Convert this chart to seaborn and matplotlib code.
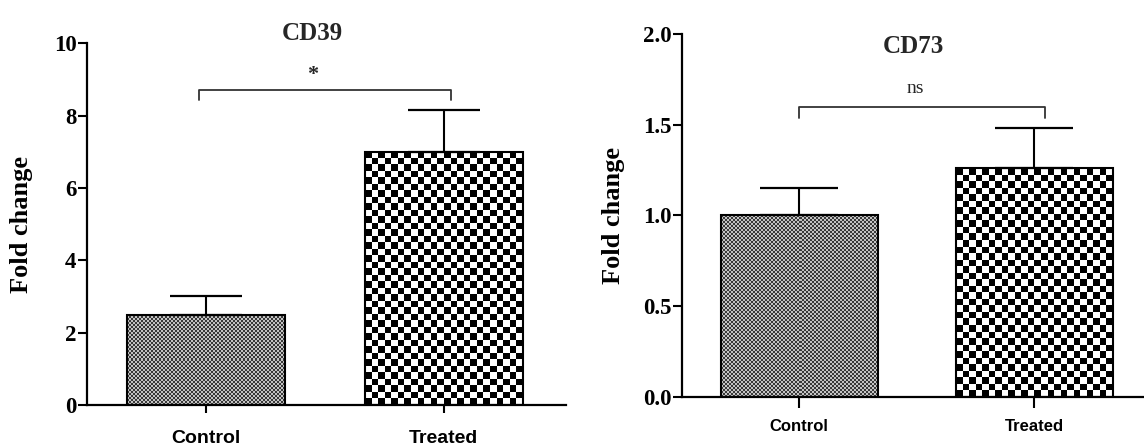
import numpy as np
import matplotlib
matplotlib.use("Agg")
import matplotlib.pyplot as plt
from matplotlib.colors import ListedColormap
import seaborn as sns

# ---- données ----
groupes = ["Control", "Treated"]
cd39_moy = [2.49, 7.0]
cd39_sem = [0.52, 1.16]
cd73_moy = [1.0, 1.26]
cd73_sem = [0.15, 0.22]
cd39_ticks = [0, 2, 4, 6, 8, 10]
cd73_ticks = [0.0, 0.5, 1.0, 1.5, 2.0]
titres = ["CD39", "CD73"]
signif = ["*", "ns"]
crochet_haut = [8.71, 1.598]
crochet_bas = [8.43, 1.537]
signif_y = [9.12, 1.70]

sns.set_theme(style="ticks")
plt.rcParams["axes.linewidth"] = 1.6
plt.rcParams["font.family"] = ["Liberation Serif", "DejaVu Serif"]

fig = plt.figure(figsize=(11.44, 4.47), dpi=100)
ax1 = fig.add_axes([0.0760, 0.094, 0.4187, 0.8087])
ax2 = fig.add_axes([0.5962, 0.1119, 0.4104, 0.8121])


# remplissage des barres par un motif damier (comme GraphPad)
def remplir_motif(ax, barre, cellule, c_fonce, c_clair):
    bb = barre.get_window_extent()
    ncol = max(1, int(round(bb.width / cellule)))
    nlig = max(1, int(round(bb.height / cellule)))
    damier = np.indices((nlig, ncol)).sum(axis=0) % 2
    x0, y0 = barre.get_x(), barre.get_y()
    x1, y1 = x0 + barre.get_width(), y0 + barre.get_height()
    ax.imshow(damier, extent=(x0, x1, y0, y1), origin="lower",
              cmap=ListedColormap([c_fonce, c_clair]), interpolation="nearest",
              aspect="auto", zorder=0.5)
    barre.set_facecolor("none")


panneaux = [
    dict(ax=ax1, moy=cd39_moy, sem=cd39_sem, ticks=cd39_ticks, fmt="{:g}",
         xlim=(-0.5, 1.513), largeur=0.664, cap=26, xt=14, tlen=6, tpad=12,
         titre_pos=(0.47, 1.0097), lab_x=-0.113, cro=(-0.03, 1.03), sx=0.45),
    dict(ax=ax2, moy=cd73_moy, sem=cd73_sem, ticks=cd73_ticks, fmt="{:.1f}",
         xlim=(-0.498, 1.5), largeur=0.668, cap=28, xt=12, tlen=8, tpad=8,
         titre_pos=(0.492, 0.948), lab_x=-0.121, cro=(0.0, 1.045), sx=0.494),
]

for i, p in enumerate(panneaux):
    ax = p["ax"]
    sns.barplot(x=groupes, y=p["moy"], color="white", width=p["largeur"],
                edgecolor="black", linewidth=1.5, errorbar=None, ax=ax)
    ax.set_xlim(*p["xlim"])
    ax.set_ylim(p["ticks"][0], p["ticks"][-1])

    barres = ax.patches
    centres = [b.get_x() + b.get_width() / 2 for b in barres]
    remplir_motif(ax, barres[0], 2.0, "#3a3a3a", "#c4c4c4")
    remplir_motif(ax, barres[1], 6.5, "#000000", "#ffffff")
    ax.set_xlim(*p["xlim"])
    ax.set_ylim(p["ticks"][0], p["ticks"][-1])

    # barres d'erreur (seulement vers le haut)
    ax.errorbar(centres, p["moy"], yerr=[[0, 0], p["sem"]], fmt="none",
                ecolor="black", elinewidth=1.5, capsize=p["cap"], capthick=1.6,
                zorder=3)

    # crochet de significativité
    xa = centres[0] + p["cro"][0]
    xb = centres[1] + (p["cro"][1] - 1)
    ax.plot([xa, xa, xb, xb],
            [crochet_bas[i], crochet_haut[i], crochet_haut[i], crochet_bas[i]],
            color="#333333", lw=1.3, clip_on=False)
    ax.text(p["sx"], signif_y[i], signif[i], ha="center", va="center",
            fontsize=16 if signif[i] == "*" else 14,
            fontweight="bold" if signif[i] == "*" else "normal")

    # titre
    ax.text(p["titre_pos"][0], p["titre_pos"][1], titres[i], transform=ax.transAxes,
            ha="center", va="baseline", fontsize=18, fontweight="bold")

    # axes
    sns.despine(ax=ax)
    ax.set_yticks(p["ticks"])
    ax.set_yticklabels([p["fmt"].format(t) for t in p["ticks"]],
                       fontsize=16.5, fontweight="bold")
    ax.tick_params(axis="y", length=6.5, width=1.5, pad=1, colors="black")
    ax.tick_params(axis="x", length=p["tlen"], width=1.5, pad=p["tpad"], colors="black")
    for lab in ax.get_xticklabels():
        lab.set_family(["Liberation Sans", "DejaVu Sans"])
        lab.set_fontsize(p["xt"])
        lab.set_fontweight("bold")
    ax.set_ylabel("Fold change", fontsize=19, fontweight="bold", color="black")
    ax.yaxis.set_label_coords(p["lab_x"], 0.5)
    ax.set_xlabel("")
    ax.spines["bottom"].set_color("black")
    ax.spines["left"].set_color("black")

fig.savefig("out.png", dpi=100)
